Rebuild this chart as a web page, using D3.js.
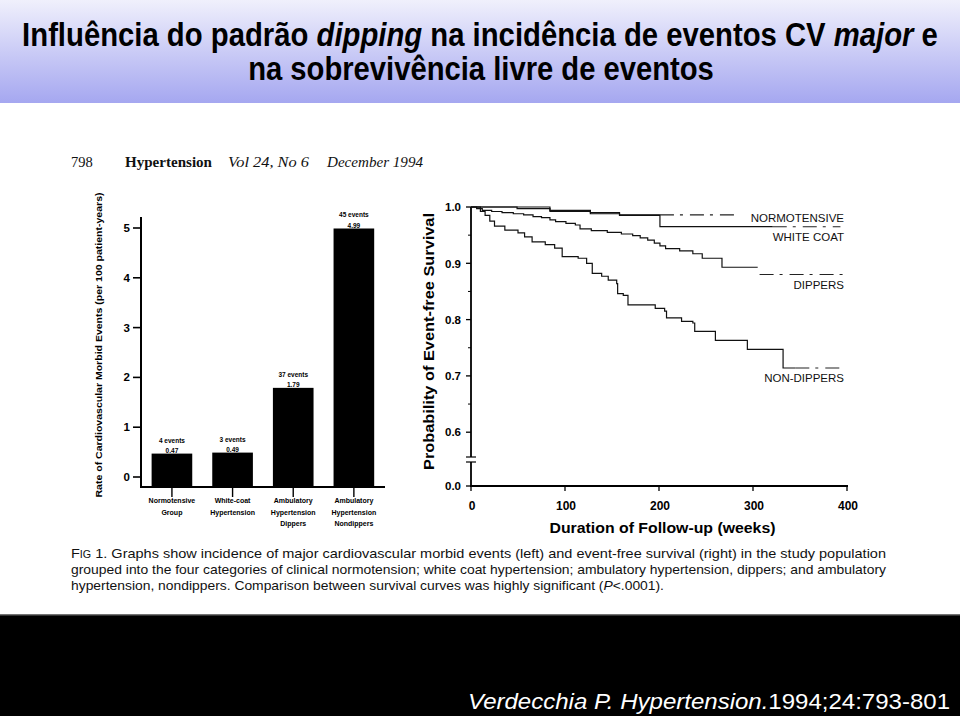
<!DOCTYPE html>
<html><head><meta charset="utf-8">
<script src="https://cdn.jsdelivr.net/npm/d3@7"></script>
<style>body{margin:0;background:#fff}svg{display:block}</style>
</head><body>
<svg id="c" width="960" height="716"></svg>
<script>
// ---------- DATA ----------
const barCategories = [["Normotensive","Group"],["White-coat","Hypertension"],["Ambulatory","Hypertension","Dippers"],["Ambulatory","Hypertension","Nondippers"]];
const barValues = [0.47, 0.49, 1.79, 4.99];
const barEvents = ["4 events","3 events","37 events","45 events"];
const barTicks = [0,1,2,3,4,5];

const survXTicks = [0,100,200,300,400];
const survYTicks = [1.0,0.9,0.8,0.7,0.6];
const survYMinor = [0.95,0.85,0.75,0.65];

// Kaplan-Meier steps: [week, survival]
const normotensiveSolid = [[0,1.0],[84,0.994],[127,0.990],[158,0.986],[201,0.986]];
const normotensiveDashed = [[201,0.986],[284,0.986]];
const whiteCoatSolid = [[0,1.0],[49,0.997],[84,0.992],[127,0.988],[158,0.985],[201,0.965],[321,0.965]];
const whiteCoatDashed = [[321,0.965],[393,0.965]];
const dippersSolid = [[0,1.0],[6,0.997],[12,0.994],[22,0.992],[33,0.990],[45,0.988],[56,0.986],[66,0.983],[75,0.981],[84,0.977],[90,0.974],[101,0.971],[111,0.968],[116,0.961],[128,0.958],[145,0.955],[160,0.952],[172,0.949],[180,0.945],[188,0.941],[195,0.936],[201,0.931],[207,0.926],[222,0.922],[236,0.917],[246,0.909],[267,0.893],[305,0.893]];
const dippersDashed = [[307,0.880],[396,0.880]];
const nonDippersSolid = [[0,1.0],[10,0.992],[15,0.985],[20,0.975],[25,0.966],[36,0.959],[50,0.954],[57,0.947],[65,0.938],[79,0.933],[89,0.927],[97,0.912],[114,0.909],[123,0.900],[129,0.882],[139,0.877],[146,0.870],[155,0.864],[156,0.846],[162,0.843],[167,0.826],[196,0.820],[206,0.815],[208,0.803],[224,0.797],[236,0.794],[238,0.779],[260,0.763],[294,0.747],[332,0.714],[345,0.714]];
const nonDippersDashed = [[345,0.714],[396,0.714]];
const curveLabels = ["NORMOTENSIVE","WHITE COAT","DIPPERS","NON-DIPPERS"];
const curveLabelLevels = [0.981, 0.947, 0.862, 0.697];

const titleLine1 = [["Influência do padrão ",false],["dipping",true],[" na incidência de eventos CV ",false],["major",true],[" e",false]];
const titleLine2 = "na sobrevivência livre de eventos";
const captionLines = [
  "Graphs show incidence of major cardiovascular morbid events (left) and event-free survival (right) in the study population",
  "grouped into the four categories of clinical normotension; white coat hypertension; ambulatory hypertension, dippers; and ambulatory",
  "hypertension, nondippers. Comparison between survival curves was highly significant ("
];

// ---------- DRAW ----------
const svg = d3.select("#c");
const defs = svg.append("defs");
const g = defs.append("linearGradient").attr("id","tg").attr("x1",0).attr("y1",0).attr("x2",0).attr("y2",1);
g.append("stop").attr("offset","0%").attr("stop-color","#f0f0fc");
g.append("stop").attr("offset","100%").attr("stop-color","#a5a7f0");

svg.append("rect").attr("width",960).attr("height",716).attr("fill","#fff");
svg.append("rect").attr("x",0).attr("y",0).attr("width",960).attr("height",103).attr("fill","url(#tg)");

const narrow = "'Liberation Sans Narrow','Arial Narrow','Liberation Sans',Arial,sans-serif";
const sans = "'Liberation Sans',Arial,Helvetica,sans-serif";
const serif = "'Liberation Serif','Times New Roman',serif";

function fitTitle(parts, cx, y, width){
  const grp = svg.append("g");
  const t = grp.append("text").attr("x",0).attr("y",0).attr("text-anchor","middle")
    .attr("font-family",sans).attr("font-weight","bold").attr("font-size",33.5).attr("fill","#000");
  parts.forEach(([s,it])=>t.append("tspan").attr("font-style",it?"italic":"normal").text(s));
  const w = t.node().getComputedTextLength();
  grp.attr("transform",`translate(${cx},${y}) scale(${width/w},1)`);
}
fitTitle(titleLine1, 480, 46, 916);
fitTitle([[titleLine2,false]], 481, 80, 466);

// journal header
const hdr = svg.append("g").attr("font-family",serif).attr("font-size",14.5).attr("fill","#111");
hdr.append("text").attr("x",71).attr("y",167).text("798");
hdr.append("text").attr("x",125).attr("y",167).attr("font-weight","bold").attr("textLength",87).attr("lengthAdjust","spacingAndGlyphs").text("Hypertension");
hdr.append("text").attr("x",228).attr("y",167).attr("font-style","italic").attr("textLength",81).attr("lengthAdjust","spacingAndGlyphs").text("Vol 24, No 6");
hdr.append("text").attr("x",327).attr("y",167).attr("font-style","italic").attr("textLength",96).attr("lengthAdjust","spacingAndGlyphs").text("December 1994");

// ---------- BAR CHART ----------
const by = d3.scaleLinear().domain([0,5]).range([477,228]);
const bx = d3.scaleBand().domain(d3.range(barValues.length)).range([141.3,384.5]).paddingInner(0.33).paddingOuter(0.17);
const bAxisY = 487;
const bar = svg.append("g");
bar.append("line").attr("x1",141).attr("x2",141).attr("y1",217).attr("y2",bAxisY+1).attr("stroke","#000").attr("stroke-width",2);
bar.append("line").attr("x1",140).attr("x2",385).attr("y1",bAxisY).attr("y2",bAxisY).attr("stroke","#000").attr("stroke-width",2);
bar.selectAll(".yt").data(barTicks).join("line").attr("x1",133).attr("x2",141).attr("y1",d=>by(d)).attr("y2",d=>by(d)).attr("stroke","#000").attr("stroke-width",1.6);
bar.selectAll(".yl").data(barTicks).join("text").attr("x",130).attr("y",d=>by(d)+4).attr("text-anchor","end")
  .attr("font-family",sans).attr("font-weight","bold").attr("font-size",11.5).text(d=>d);
bar.selectAll(".bar").data(barValues).join("rect")
  .attr("x",(d,i)=>bx(i)).attr("width",bx.bandwidth()).attr("y",d=>by(d)).attr("height",d=>bAxisY-by(d)).attr("fill","#000");
bar.selectAll(".xt").data(barValues).join("line").attr("x1",(d,i)=>bx(i)+bx.bandwidth()/2).attr("x2",(d,i)=>bx(i)+bx.bandwidth()/2)
  .attr("y1",bAxisY).attr("y2",bAxisY+10).attr("stroke","#000").attr("stroke-width",1.4);
bar.selectAll(".ev").data(barEvents).join("text").attr("x",(d,i)=>bx(i)+bx.bandwidth()/2).attr("y",(d,i)=>by(barValues[i])-11)
  .attr("text-anchor","middle").attr("font-family",sans).attr("font-weight","bold").attr("font-size",6.5).text(d=>d);
bar.selectAll(".vl").data(barValues).join("text").attr("x",(d,i)=>bx(i)+bx.bandwidth()/2).attr("y",d=>by(d)-0.5)
  .attr("text-anchor","middle").attr("font-family",sans).attr("font-weight","bold").attr("font-size",6.5).text(d=>d.toFixed(2));
barCategories.forEach((lines,i)=>{
  lines.forEach((s,j)=>bar.append("text").attr("x",bx(i)+bx.bandwidth()/2).attr("y",503+j*11.5)
    .attr("text-anchor","middle").attr("font-family",sans).attr("font-weight","bold").attr("font-size",7).text(s));
});
bar.append("text").attr("transform","translate(101.5,345) rotate(-90)").attr("text-anchor","middle")
  .attr("font-family",sans).attr("font-weight","bold").attr("font-size",8.3).attr("textLength",305).attr("lengthAdjust","spacingAndGlyphs")
  .text("Rate of Cardiovascular Morbid Events (per 100 patient-years)");

// ---------- SURVIVAL ----------
const sx = d3.scaleLinear().domain([0,400]).range([471,847]);
const sy = d3.scaleLinear().domain([0,0.6,1.0]).range([486,432.2,207]);
const sv = svg.append("g");
sv.append("line").attr("x1",471).attr("x2",471).attr("y1",sy(1.0)).attr("y2",457).attr("stroke","#000").attr("stroke-width",1.8);
sv.append("line").attr("x1",471).attr("x2",471).attr("y1",462).attr("y2",sy(0)).attr("stroke","#000").attr("stroke-width",1.8);
sv.append("line").attr("x1",466).attr("x2",476).attr("y1",457).attr("y2",457).attr("stroke","#000").attr("stroke-width",1.2);
sv.append("line").attr("x1",466).attr("x2",476).attr("y1",462).attr("y2",462).attr("stroke","#000").attr("stroke-width",1.2);
const yTickAll = survYTicks.concat([0]);
sv.selectAll(".syt").data(yTickAll).join("line").attr("x1",466).attr("x2",471).attr("y1",d=>sy(d)).attr("y2",d=>sy(d)).attr("stroke","#000").attr("stroke-width",1.3);
sv.selectAll(".sym").data(survYMinor).join("line").attr("x1",468).attr("x2",471).attr("y1",d=>sy(d)).attr("y2",d=>sy(d)).attr("stroke","#000").attr("stroke-width",1);
sv.selectAll(".syl").data(yTickAll).join("text").attr("x",461).attr("y",d=>sy(d)+4.2).attr("text-anchor","end")
  .attr("font-family",sans).attr("font-weight","bold").attr("font-size",11.5).text(d=>d.toFixed(1));
sv.append("line").attr("x1",470).attr("x2",sx(400)+1).attr("y1",sy(0)).attr("y2",sy(0)).attr("stroke","#000").attr("stroke-width",1.8);
sv.selectAll(".sxt").data(survXTicks).join("line").attr("x1",d=>sx(d)).attr("x2",d=>sx(d)).attr("y1",sy(0)).attr("y2",sy(0)+5).attr("stroke","#000").attr("stroke-width",1.3);
sv.selectAll(".sxl").data(survXTicks).join("text").attr("x",d=>sx(d)+1).attr("y",509.5).attr("text-anchor","middle")
  .attr("font-family",sans).attr("font-weight","bold").attr("font-size",12).text(d=>d);
sv.append("text").attr("x",662.5).attr("y",532.5).attr("text-anchor","middle").attr("font-family",sans).attr("font-weight","bold")
  .attr("font-size",14.5).attr("textLength",226).attr("lengthAdjust","spacingAndGlyphs").text("Duration of Follow-up (weeks)");
sv.append("text").attr("transform","translate(433.5,341.5) rotate(-90)").attr("text-anchor","middle").attr("font-family",sans).attr("font-weight","bold")
  .attr("font-size",14.5).attr("textLength",257).attr("lengthAdjust","spacingAndGlyphs").text("Probability of Event-free Survival");

const line = d3.line().x(d=>sx(d[0])).y(d=>sy(d[1])).curve(d3.curveStepAfter);
const solids = [normotensiveSolid, whiteCoatSolid, dippersSolid, nonDippersSolid];
const dashes = [normotensiveDashed, whiteCoatDashed, dippersDashed, nonDippersDashed];
sv.selectAll(".cs").data(solids).join("path").attr("d",line).attr("fill","none").attr("stroke","#111").attr("stroke-width",1.2);
sv.selectAll(".cd").data(dashes).join("path").attr("d",line).attr("fill","none").attr("stroke","#222").attr("stroke-width",1.1).attr("stroke-dasharray","14,6,3,7");
sv.selectAll(".cl").data(curveLabels).join("text").attr("x",844).attr("y",(d,i)=>sy(curveLabelLevels[i])+4)
  .attr("text-anchor","end").attr("font-family",sans).attr("font-size",11.5).attr("fill","#111").text(d=>d);

// ---------- CAPTION ----------
const cap = svg.append("g").attr("font-family",narrow).attr("font-size",13.5).attr("fill","#111");
const c1 = cap.append("text").attr("x",71).attr("y",558).attr("textLength",815).attr("lengthAdjust","spacingAndGlyphs");
c1.append("tspan").text("F");
c1.append("tspan").attr("font-size",10).text("IG");
c1.append("tspan").text(" 1.   " + captionLines[0]);
cap.append("text").attr("x",71).attr("y",574).attr("textLength",815).attr("lengthAdjust","spacingAndGlyphs").text(captionLines[1]);
const c3 = cap.append("text").attr("x",71).attr("y",589.5).attr("textLength",593).attr("lengthAdjust","spacingAndGlyphs");
c3.append("tspan").text(captionLines[2]);
c3.append("tspan").attr("font-style","italic").text("P");
c3.append("tspan").text("<.0001).");

// ---------- FOOTER ----------
svg.append("rect").attr("x",0).attr("y",615).attr("width",960).attr("height",101).attr("fill","#000");
svg.append("line").attr("x1",0).attr("x2",960).attr("y1",615).attr("y2",615).attr("stroke","#444").attr("stroke-width",1.5);
const ft = svg.append("text").attr("x",468).attr("y",709).attr("font-family",sans).attr("font-size",22).attr("fill","#fff")
  .attr("textLength",482).attr("lengthAdjust","spacingAndGlyphs");
ft.append("tspan").attr("font-style","italic").text("Verdecchia P. Hypertension.");
ft.append("tspan").text("1994;24:793-801");
</script></body></html>
